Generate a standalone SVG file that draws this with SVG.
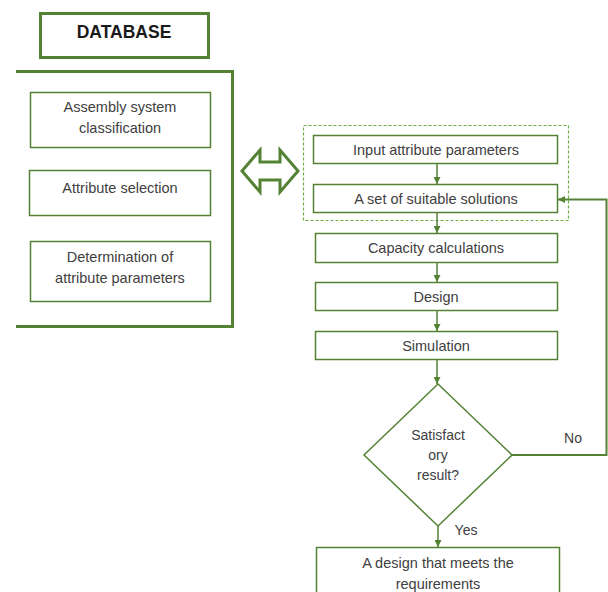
<svg xmlns="http://www.w3.org/2000/svg" width="608" height="592" viewBox="0 0 608 592">
<defs>
<style>
.box{fill:#fff;stroke:#548235;stroke-width:1.5}
.thick{fill:none;stroke:#548235;stroke-width:3}
.dash{fill:none;stroke:#70ad47;stroke-width:1.2;stroke-dasharray:3 2}
.ln{fill:none;stroke:#548235;stroke-width:1.5}
.t{font-family:"Liberation Sans",Arial,sans-serif;font-size:14.5px;fill:#404040;text-anchor:middle}
.s{font-family:"Liberation Sans",Arial,sans-serif;font-size:14px;fill:#404040;text-anchor:middle}
.b{font-family:"Liberation Sans",Arial,sans-serif;font-size:17.5px;font-weight:bold;fill:#1a1a1a;text-anchor:middle}
</style>
<marker id="ah" viewBox="0 0 10 10" refX="10" refY="5" markerWidth="7" markerHeight="7" markerUnits="userSpaceOnUse" orient="auto">
<path d="M0,0 L10,5 L0,10 z" fill="#548235"/>
</marker>
</defs>
<rect width="608" height="592" fill="#fff"/>
<g id="database">
<rect x="40.5" y="13.5" width="168" height="44" class="box" style="stroke-width:3"/>
<text x="124" y="38" class="b">DATABASE</text>
</g>
<g id="bracket">
<path d="M16,71.5 H232.5 V326.5 H16" class="thick"/>
</g>
<g id="assembly">
<rect x="30.5" y="92.5" width="180" height="55" class="box"/>
<text x="120" y="112" class="t">Assembly system</text>
<text x="120" y="133" class="t">classification</text>
</g>
<g id="attrsel">
<rect x="29.5" y="170.5" width="181" height="45" class="box"/>
<text x="120" y="193" class="t">Attribute selection</text>
</g>
<g id="determination">
<rect x="30.5" y="241.5" width="180" height="60" class="box"/>
<text x="120" y="262" class="t">Determination of</text>
<text x="120" y="283" class="t">attribute parameters</text>
</g>
<g id="doublearrow">
<path d="M242,171 L260,150 V162 H280 V150 L298,171 L280,192 V180 H260 V192 Z" fill="#fff" stroke="#548235" stroke-width="3" stroke-linejoin="miter"/>
</g>
<g id="dashgroup">
<rect x="303.5" y="125.5" width="265" height="95" class="dash"/>
</g>
<g id="input">
<rect x="313.5" y="135.5" width="244" height="28" class="box"/>
<text x="436" y="155" class="t">Input attribute parameters</text>
</g>
<g id="solutions">
<rect x="313.5" y="184.5" width="244" height="28" class="box"/>
<text x="436" y="204" class="t">A set of suitable solutions</text>
</g>
<g id="capacity">
<rect x="315.5" y="233.5" width="242" height="29" class="box"/>
<text x="436" y="253" class="t">Capacity calculations</text>
</g>
<g id="design">
<rect x="315.5" y="282.5" width="242" height="28" class="box"/>
<text x="436" y="302" class="t">Design</text>
</g>
<g id="simulation">
<rect x="315.5" y="331.5" width="242" height="28" class="box"/>
<text x="436" y="351" class="t">Simulation</text>
</g>
<g id="decision">
<path d="M438,384 L512,455 L438,526 L364,455 Z" class="box"/>
<text x="438" y="440" class="s">Satisfact</text>
<text x="438" y="460" class="s">ory</text>
<text x="438" y="480" class="s">result?</text>
</g>
<g id="final">
<rect x="316.5" y="547.5" width="243" height="60" class="box"/>
<text x="438" y="568" class="t">A design that meets the</text>
<text x="438" y="589" class="t">requirements</text>
</g>
<g id="connectors">
<line x1="437" y1="164" x2="437" y2="184" class="ln" marker-end="url(#ah)"/>
<line x1="437" y1="213" x2="437" y2="233" class="ln" marker-end="url(#ah)"/>
<line x1="437" y1="263" x2="437" y2="282" class="ln" marker-end="url(#ah)"/>
<line x1="437" y1="311" x2="437" y2="331" class="ln" marker-end="url(#ah)"/>
<line x1="437" y1="360" x2="437" y2="384" class="ln" marker-end="url(#ah)"/>
<line x1="438" y1="526" x2="438" y2="547" class="ln" marker-end="url(#ah)"/>
<path d="M512,455 H606.5 V199.5 H558" class="ln" style="stroke-width:2" marker-end="url(#ah)"/>
<text x="573" y="443" class="s">No</text>
<text x="466" y="535" class="s">Yes</text>
</g>
</svg>
